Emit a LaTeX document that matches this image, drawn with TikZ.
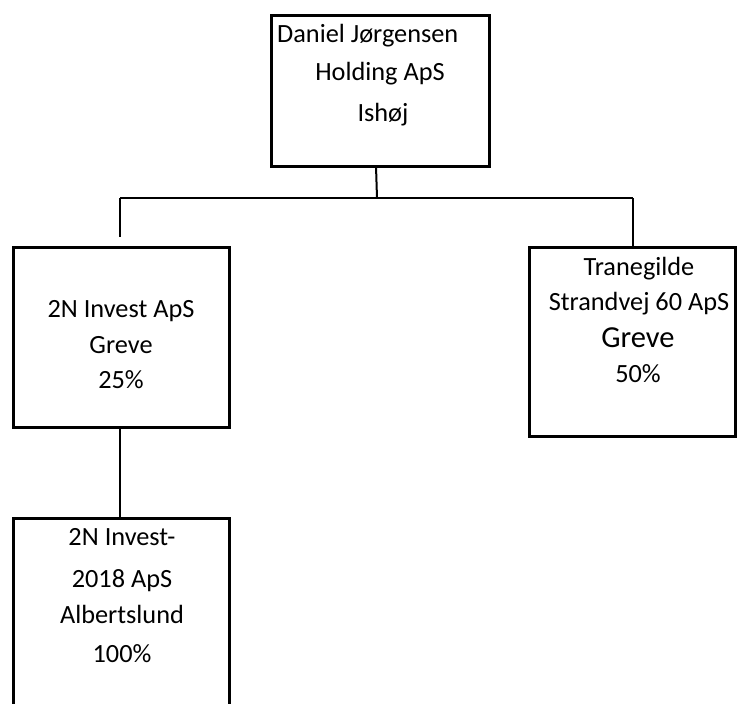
\documentclass[tikz,border=0pt]{standalone}
\usepackage{fontspec}
\setmainfont{Carlito}
\begin{document}
\begin{tikzpicture}[x=1pt,y=-1pt,
  box/.style={draw, line width=3pt, inner sep=0pt, outer sep=0pt},
  conn/.style={line width=2pt},
  lbl/.style={font=\fontsize{26.3}{31}\selectfont, anchor=base, inner sep=0pt},
  big/.style={font=\fontsize{30.5}{36}\selectfont, anchor=base, inner sep=0pt}]
\useasboundingbox (0,0) rectangle (737,704);
\clip (0,0) rectangle (737,704);
\fill[white] (0,0) rectangle (737,704);
% boxes
\node[box, minimum width=218pt, minimum height=151pt] (top) at (380,90.5) {};
\node[box, minimum width=216pt, minimum height=180pt] (left) at (121,337) {};
\node[box, minimum width=206pt, minimum height=189pt] (right) at (632,341.5) {};
\node[box, minimum width=216pt, minimum height=212pt] (bottom) at (121,624) {};
% texts
\node[lbl, anchor=base west] (t1) at (277,42) {Daniel Jørgensen};
\node[lbl] (t2) at (380,80) {Holding ApS};
\node[lbl] (t3) at (383,121) {Ishøj};
\node[lbl] (l1) at (121,317) {2N Invest ApS};
\node[lbl] (l2) at (121,353) {Greve};
\node[lbl] (l3) at (121,388) {25\%};
\node[lbl] (r1) at (639,275) {Tranegilde};
\node[lbl] (r2) at (639,310) {Strandvej 60 ApS};
\node[big] (r3) at (638,347) {Greve};
\node[lbl] (r4) at (638,382) {50\%};
\node[lbl] (b1) at (122,545) {2N Invest-};
\node[lbl] (b2) at (122,587) {2018 ApS};
\node[lbl] (b3) at (122,623) {Albertslund};
\node[lbl] (b4) at (122,662) {100\%};
% connectors
\coordinate (topfoot) at (376,166);
\coordinate (mid) at (377,198);
\coordinate (hl) at (120,198);
\coordinate (hr) at (633,198);
\coordinate (lend) at (120,237);
\coordinate (lfoot) at (120,427);
\coordinate (bhead) at (120,518);
\coordinate (rhead) at (633,247);
\draw[conn] (topfoot) -- (mid);
\draw[conn] (hl) -- (hr);
\draw[conn] (hl) -- (lend);
\draw[conn] (hr) -- (rhead);
\draw[conn] (lfoot) -- (bhead);
\end{tikzpicture}
\end{document}
